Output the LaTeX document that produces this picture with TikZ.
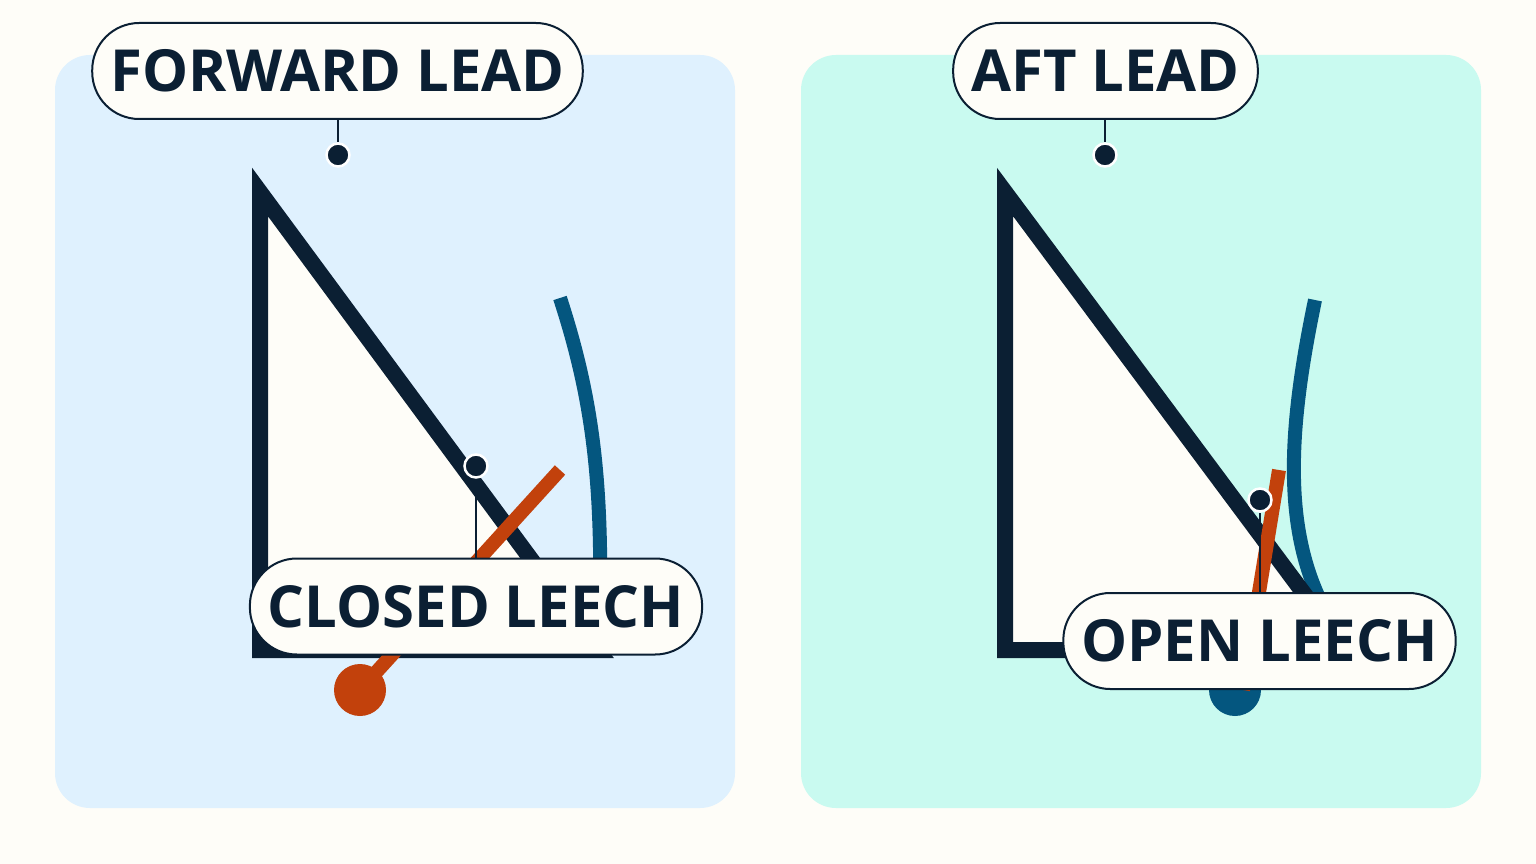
\documentclass[tikz,border=0pt]{standalone}
\usepackage{fontspec}
\setmainfont{Open Sans}
\begin{document}
\begin{tikzpicture}[x=1pt,y=-1pt,
  panel/.style={rounded corners=35pt},
  sail/.style={fill=bgc,draw=ink,line width=16pt,miter limit=20},
  pill/.style={draw=ink,line width=2pt,fill=bgc,rounded corners=47pt,minimum height=96pt,inner xsep=18pt,font=\fontsize{58}{60}\selectfont\bfseries,text=ink},
  dot/.style={circle,fill=ink,draw=white,line width=2.5pt,minimum size=23pt,inner sep=0pt},
  lead/.style={draw=ink,line width=2pt},
  boom/.style={draw=rust,line width=14pt},
  sheet/.style={draw=blu,line width=14pt}]
\definecolor{bgc}{HTML}{FEFDF8}
\definecolor{ink}{HTML}{0B1F33}
\definecolor{rust}{HTML}{C2410C}
\definecolor{blu}{HTML}{04567F}
\definecolor{lp}{HTML}{DFF1FE}
\definecolor{rp}{HTML}{C9FAF0}
\useasboundingbox (0,0) rectangle (1536,864);
\fill[bgc] (0,0) rectangle (1536,864);
\fill[lp,panel] (55,55) rectangle (735,808);
\fill[rp,panel] (801,55) rectangle (1481,808);
% left
\draw[sheet] (560,298) .. controls (590,390) and (602,470) .. (600,600);
\draw[sail] (260,192) -- (260,650) -- (598,650) -- cycle;
\coordinate (b1) at (560,470);
\node[circle,fill=rust,minimum size=52pt,inner sep=0pt] (bc1) at (360,690) {};
\draw[boom] (b1) -- (bc1.center);
\node[dot] (d1) at (338,155) {};
\node[dot] (d2) at (476,466) {};
\node[pill] (fl) at (337.5,71) {FORWARD LEAD};
\node[pill] (cl) at (476,606.5) {CLOSED LEECH};
\draw[lead] (fl.south -| d1) -- (d1);
\draw[lead] (d2) -- (cl.north -| d2);
% right
\draw[sheet] (1315,300) .. controls (1290,420) and (1282,520) .. (1320,600);
\node[circle,fill=blu,minimum size=52pt,inner sep=0pt] (bc2) at (1235,690) {};
\draw[sail] (1005,192) -- (1005,650) -- (1346,650) -- cycle;
\coordinate (b2) at (1279,470);
\coordinate (b2e) at (1243,690);
\draw[boom] (b2) -- (b2e);
\node[dot] (d3) at (1105,155) {};
\node[dot] (d4) at (1260,500) {};
\node[pill] (al) at (1105.5,71) {AFT LEAD};
\node[pill] (ol) at (1259.5,641) {OPEN LEECH};
\draw[lead] (al.south -| d3) -- (d3);
\draw[lead] (d4) -- (ol.north -| d4);
\end{tikzpicture}
\end{document}
